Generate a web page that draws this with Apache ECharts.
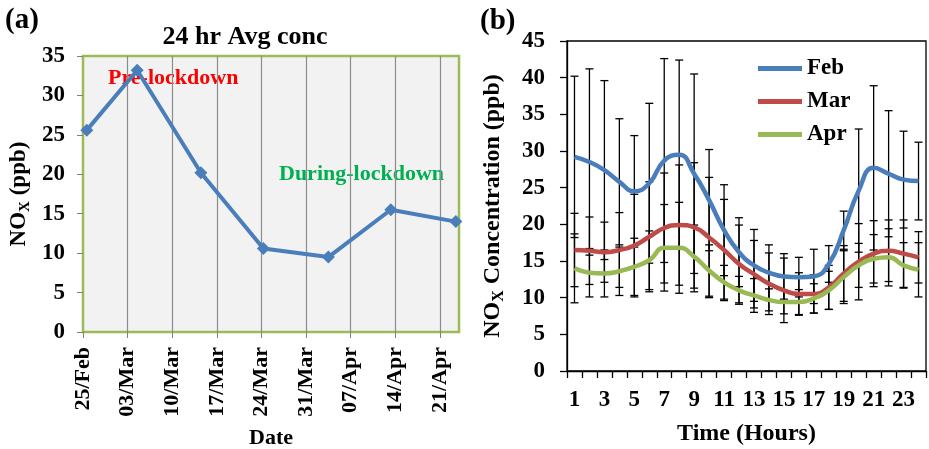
<!DOCTYPE html>
<html><head><meta charset="utf-8">
<script src="https://cdn.jsdelivr.net/npm/echarts@6/dist/echarts.min.js"></script>
<style>html,body{margin:0;padding:0;background:#fff}#c{width:929px;height:449px}</style>
</head><body><div id="c"></div>
<script>
// ---------- Panel (a): 24 hr average ----------
const dateTicks = ['25/Feb','03/Mar','10/Mar','17/Mar','24/Mar','31/Mar','07/Apr','14/Apr','21/Apr'];
const sampleDays = [0.6, 8.5, 18.5, 28.3, 38.5, 48.3, 58.5]; // days after 25 Feb 2020
const avgNOx = [25.6, 33.2, 20.2, 10.6, 9.5, 15.5, 14.0];

// ---------- Panel (b): diurnal profile ----------
const hours = ['1','2','3','4','5','6','7','8','9','10','11','12','13','14','15','16','17','18','19','20','21','22','23','24'];
const febMean = [29.2, 28.5, 27.4, 25.8, 24.5, 25.6, 28.7, 29.5, 26.9, 23.3, 19.2, 16.2, 14.4, 13.4, 12.9, 12.8, 12.9, 14.6, 19.2, 24.6, 27.7, 26.9, 26.1, 25.9];
const febSD   = [11.0, 12.7, 12.2, 8.6, 7.6, 10.9, 13.9, 12.9, 13.6, 6.9, 6.2, 4.7, 4.9, 3.8, 3.1, 2.7, 3.7, 2.5, 2.6, 8.4, 11.2, 8.6, 6.6, 5.3];
const marMean = [16.5, 16.4, 16.2, 16.5, 17.1, 18.3, 19.5, 19.9, 19.6, 18.2, 16.5, 14.6, 13.2, 11.9, 11.0, 10.5, 10.5, 11.4, 13.3, 14.9, 16.0, 16.4, 16.0, 15.5];
const marSD   = [5.0, 4.6, 4.1, 5.1, 7.0, 7.5, 7.5, 8.2, 8.8, 8.2, 6.9, 5.3, 4.6, 4.2, 4.4, 2.9, 2.6, 3.0, 3.8, 5.2, 4.5, 4.2, 4.6, 3.5];
const aprMean = [14.0, 13.4, 13.3, 13.6, 14.2, 15.1, 16.8, 16.8, 15.6, 13.7, 12.1, 11.0, 10.3, 9.7, 9.4, 9.4, 9.9, 11.0, 12.8, 14.4, 15.3, 15.5, 14.4, 13.8];
const aprSD   = [4.7, 3.3, 3.2, 3.3, 3.9, 4.0, 5.9, 6.2, 4.3, 3.5, 2.3, 1.9, 2.3, 1.5, 1.6, 1.7, 2.0, 2.6, 3.6, 3.0, 3.3, 3.9, 3.1, 3.7];

const FONT = '"Liberation Serif","Times New Roman",serif';
const lbl = (size) => ({fontFamily: FONT, fontWeight: 'bold', fontSize: size, color: '#000'});
const subRich = (size) => ({
  sub: {fontFamily: FONT, fontWeight: 'bold', fontSize: Math.round(size * 0.65), color: '#000', verticalAlign: 'bottom', lineHeight: size - 1},
  n: {fontFamily: FONT, fontWeight: 'bold', fontSize: size, color: '#000', lineHeight: size + 5}
});

function errorSeries(means, sds) {
  return {
    type: 'custom', xAxisIndex: 1, yAxisIndex: 1, z: 1, silent: true,
    data: hours.map((h, i) => [i, means[i] - sds[i], means[i] + sds[i]]),
    encode: {x: 0, y: [1, 2]},
    renderItem(params, api) {
      const x = api.value(0);
      const lo = api.coord([x, api.value(1)]);
      const hi = api.coord([x, api.value(2)]);
      const w = 4;
      const st = {stroke: '#000', lineWidth: 1.3};
      return {type: 'group', children: [
        {type: 'line', shape: {x1: lo[0], y1: lo[1], x2: hi[0], y2: hi[1]}, style: st},
        {type: 'line', shape: {x1: lo[0] - w, y1: lo[1], x2: lo[0] + w, y2: lo[1]}, style: st},
        {type: 'line', shape: {x1: hi[0] - w, y1: hi[1], x2: hi[0] + w, y2: hi[1]}, style: st}
      ]};
    }
  };
}
function meanSeries(name, means, color) {
  return {
    name, type: 'line', xAxisIndex: 1, yAxisIndex: 1, z: 3,
    data: means, smooth: 0.5, symbol: 'none',
    lineStyle: {color, width: 4.5}, itemStyle: {color}
  };
}

const chart = echarts.init(document.getElementById('c'));
chart.setOption({
  animation: false,
  backgroundColor: '#fff',
  grid: [
    {left: 83, top: 56, width: 376, height: 276, show: true, backgroundColor: '#f2f2f2', borderColor: '#9bbb59', borderWidth: 2.5,
     containLabel: false, outerBoundsMode: 'none'},
    {left: 567, top: 41, width: 359, height: 330, show: true, backgroundColor: 'transparent', borderColor: '#000', borderWidth: 1.3,
     containLabel: false, outerBoundsMode: 'none'}
  ],
  xAxis: [
    {gridIndex: 0, type: 'value', min: 0, max: 59, interval: 7,
     axisLine: {show: false},
     axisTick: {show: true, length: 6, lineStyle: {color: '#7f7f7f', width: 1}},
     splitLine: {show: true, showMinLine: false, showMaxLine: false, lineStyle: {color: '#8c8c8c', width: 1.2}},
     axisLabel: Object.assign(lbl(22), {rotate: 90, margin: 15, showMaxLabel: false,
       formatter: v => (v % 7 === 0 ? dateTicks[v / 7] : '')}),
     name: 'Date', nameLocation: 'middle', nameGap: 95, nameTextStyle: lbl(22)},
    {gridIndex: 1, type: 'category', data: hours, boundaryGap: true,
     axisLine: {show: true, lineStyle: {color: '#000', width: 1.3}},
     axisTick: {show: true, interval: 0, length: 7, lineStyle: {color: '#000', width: 1.3}},
     splitLine: {show: false},
     axisLabel: Object.assign(lbl(23), {interval: 1, margin: 18}),
     name: 'Time (Hours)', nameLocation: 'middle', nameGap: 51, nameTextStyle: lbl(24)}
  ],
  yAxis: [
    {gridIndex: 0, type: 'value', min: 0, max: 35, interval: 5,
     axisLine: {show: false},
     axisTick: {show: true, length: 6, lineStyle: {color: '#7f7f7f', width: 1}},
     splitLine: {show: false},
     axisLabel: Object.assign(lbl(23), {margin: 18}),
     name: '{n|NO}{sub|X}{n| (ppb)}', nameLocation: 'middle', nameGap: 50,
     nameTextStyle: {rich: subRich(23)}},
    {gridIndex: 1, type: 'value', min: 0, max: 45, interval: 5,
     axisLine: {show: true, lineStyle: {color: '#000', width: 1.3}},
     axisTick: {show: true, length: 7, lineStyle: {color: '#000', width: 1.3}},
     splitLine: {show: false},
     axisLabel: Object.assign(lbl(23), {margin: 22}),
     name: '{n|NO}{sub|X}{n| Concentration (ppb)}', nameLocation: 'middle', nameGap: 60,
     nameTextStyle: {rich: subRich(24)}}
  ],
  legend: {
    data: ['Feb', 'Mar', 'Apr'], orient: 'vertical', left: 753, top: 52,
    icon: 'rect', itemWidth: 44, itemHeight: 5, itemGap: 10,
    textStyle: Object.assign(lbl(23), {lineHeight: 23})
  },
  graphic: [
    {type: 'text', x: 5, y: 21, style: {text: '(a)', font: 'bold 29px ' + FONT, fill: '#000', align: 'left', verticalAlign: 'middle'}},
    {type: 'text', x: 480, y: 22, style: {text: '(b)', font: 'bold 29px ' + FONT, fill: '#000', align: 'left', verticalAlign: 'middle'}},
    {type: 'text', x: 245, y: 37, style: {text: '24 hr Avg conc', font: 'bold 26px ' + FONT, fill: '#000', align: 'center', verticalAlign: 'middle'}},
    {type: 'text', x: 108, y: 78, style: {text: 'Pre-lockdown', font: 'bold 22px ' + FONT, fill: '#ff0000', align: 'left', verticalAlign: 'middle'}},
    {type: 'text', x: 279, y: 174, style: {text: 'During-lockdown', font: 'bold 22px ' + FONT, fill: '#00b050', align: 'left', verticalAlign: 'middle'}}
  ],
  series: [
    {type: 'line', xAxisIndex: 0, yAxisIndex: 0, z: 3,
     data: sampleDays.map((d, i) => [d, avgNOx[i]]),
     symbol: 'diamond', symbolSize: 13,
     lineStyle: {color: '#4a7ebb', width: 4}, itemStyle: {color: '#4a7ebb'}},
    errorSeries(febMean, febSD),
    errorSeries(marMean, marSD),
    errorSeries(aprMean, aprSD),
    meanSeries('Feb', febMean, '#4a7ebb'),
    meanSeries('Mar', marMean, '#be4b48'),
    meanSeries('Apr', aprMean, '#98b954')
  ]
});
</script>
</body></html>
